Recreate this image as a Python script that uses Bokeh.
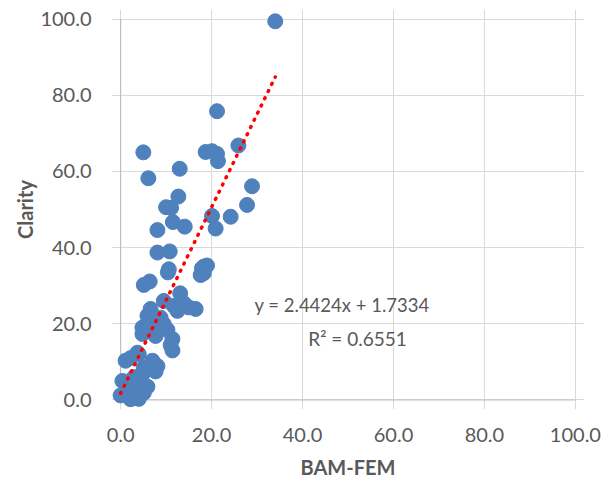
from bokeh.plotting import figure
from bokeh.models import Range1d, FixedTicker, NumeralTickFormatter, Label, ColumnDataSource
from bokeh.embed import file_html
from bokeh.resources import INLINE

# BAM-FEM (x) vs Clarity (y)
bam_fem = [34.0, 21.2, 5.0, 6.1, 13.0, 18.7, 20.1, 21.2, 21.4, 25.9, 28.9, 27.8, 24.2, 20.1, 20.9,
           12.7, 10.0, 11.1, 11.5, 14.1, 8.1, 8.1, 10.8, 10.4, 10.6, 17.9, 19.0, 18.3, 17.6, 18.3,
           5.1, 6.4, 13.1, 9.5, 13.9, 15.0, 16.5, 11.7, 12.5, 6.6, 5.9, 7.0, 8.8, 9.5, 10.3,
           4.8, 6.6, 6.2, 8.8, 4.8, 7.7, 11.4, 11.4, 11.0, 2.2, 4.0, 3.7, 7.0, 8.1, 7.7,
           5.1, 4.8, 0.4, 2.6, 4.4, 1.8, 4.0, 0.0, 2.2, 4.0, 5.1, 5.9, 3.0, 1.1]
clarity = [99.4, 75.8, 65.0, 58.2, 60.7, 65.1, 65.3, 64.6, 62.7, 66.8, 56.1, 51.2, 48.1, 48.3, 45.0,
           53.4, 50.6, 50.4, 46.7, 45.5, 44.6, 38.7, 39.0, 33.5, 34.3, 34.6, 35.3, 35.0, 32.8, 33.3,
           30.2, 31.1, 28.0, 26.0, 25.4, 24.3, 23.9, 24.7, 23.4, 23.9, 22.1, 21.2, 21.6, 19.9, 18.4,
           19.0, 18.2, 19.9, 19.5, 17.3, 16.8, 16.0, 13.0, 14.4, 11.0, 12.0, 12.4, 10.3, 8.9, 7.5,
           8.5, 6.7, 5.0, 5.4, 4.6, 3.2, 3.2, 1.2, 0.2, 0.3, 1.9, 3.5, 6.0, 10.3]

slope = 2.4424
intercept = 1.7334
equation_text = "y = 2.4424x + 1.7334"
r2_text = "R\u00b2 = 0.6551"
ticks = [0, 20, 40, 60, 80, 100]
x_title = "BAM-FEM"
y_title = "Clarity"

FONT = "Lato"
GRAY = "#595959"

p = figure(width=610, height=482, output_backend="svg", toolbar_location=None,
           x_range=Range1d(-2, 102), y_range=Range1d(-2.5, 102.5),
           min_border_left=111, min_border_right=26, min_border_top=9, min_border_bottom=73)
p.outline_line_color = None
p.background_fill_color = "white"
p.border_fill_color = "white"

for ax, t in ((p.xaxis[0], x_title), (p.yaxis[0], y_title)):
    ax.ticker = FixedTicker(ticks=ticks)
    ax.formatter = NumeralTickFormatter(format="0.0")
    ax.axis_line_color = None
    ax.major_tick_line_color = None
    ax.minor_tick_line_color = None
    ax.major_label_text_font = FONT
    ax.major_label_text_font_size = "20px"
    ax.major_label_text_color = GRAY
    ax.axis_label = t
    ax.axis_label_text_font = FONT
    ax.axis_label_text_font_size = "20px"
    ax.axis_label_text_font_style = "bold"
    ax.axis_label_text_color = GRAY

p.xaxis.major_label_standoff = 12
p.yaxis.major_label_standoff = 14
p.xaxis.axis_label_standoff = 10
p.yaxis.axis_label_standoff = 0

for g in (p.xgrid[0], p.ygrid[0]):
    g.ticker = FixedTicker(ticks=ticks)
    g.grid_line_color = "#d9d9d9"
    g.grid_line_width = 1
    g.bounds = (0, 100)

# axis lines at data zero
p.segment(x0=[0, 0], y0=[0, 0], x1=[100, 0], y1=[0, 100], line_color="#bfbfbf", line_width=1.2)

src = ColumnDataSource(data=dict(x=bam_fem, y=clarity))
p.scatter("x", "y", source=src, size=15, fill_color="#4f81bd", line_color="#4f81bd", line_width=1)

xs = [min(bam_fem), max(bam_fem)]
ys = [slope * v + intercept for v in xs]
p.line(xs, ys, line_color="#ff0000", line_width=3.5, line_dash="1 7", line_cap="round")

p.add_layout(Label(x=48.7, y=24.9, text=equation_text, text_align="center", text_baseline="middle",
                   text_font=FONT, text_font_size="18.5px", text_color=GRAY))
p.add_layout(Label(x=52.1, y=16.2, text=r2_text, text_align="center", text_baseline="middle",
                   text_font=FONT, text_font_size="19px", text_color=GRAY))

open("out.html", "w").write(file_html(p, INLINE))
